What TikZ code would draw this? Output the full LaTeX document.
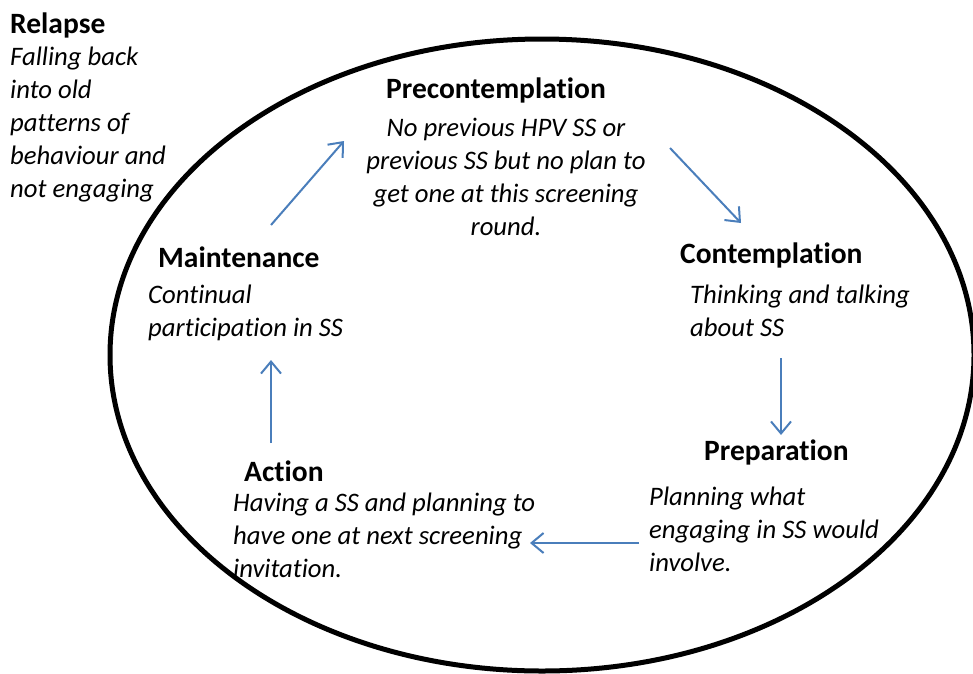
\documentclass[tikz,border=0pt]{standalone}
\usepackage{fontspec}
\setmainfont[Ligatures=NoCommon]{Carlito}
\usetikzlibrary{arrows.meta}
\definecolor{arrowblue}{HTML}{4A7EBB}
\begin{document}
\begin{tikzpicture}[x=1pt,y=-1pt,
  stage/.style={font=\fontsize{29.5}{33}\selectfont\bfseries, inner sep=0pt},
  note/.style={font=\fontsize{26.7}{33}\selectfont\itshape, inner sep=0pt},
  flow/.style={draw=arrowblue, line width=2pt,
    -{Straight Barb[length=12pt,width=20pt,line width=2pt]}}]
  \useasboundingbox (0,0) rectangle (973,673);

  % the cycle outline
  \draw[line width=5pt] (542,355) ellipse [x radius=432, y radius=316];

  % relapse, outside the cycle (multi-line notes are placed by their last baseline)
  \node[stage, anchor=base west] (relapse) at (10,33) {Relapse};
  \node[note, anchor=base west, align=left] (relapsetxt) at (10,197)
    {Falling back\\into old\\patterns of\\behaviour and\\not engaging};

  % stages inside the cycle
  \node[stage, anchor=base] (pre) at (496,98) {Precontemplation};
  \node[note, anchor=base, align=center] (pretxt) at (506,235)
    {No previous HPV SS or\\previous SS but no plan to\\get one at this screening\\round.};

  \node[stage, anchor=base west] (con) at (680,263) {Contemplation};
  \node[note, anchor=base west, align=left] (contxt) at (690,336)
    {Thinking and talking\\about SS};

  \node[stage, anchor=base west] (prep) at (704,460) {Preparation};
  \node[note, anchor=base west, align=left] (preptxt) at (649,571)
    {Planning what\\engaging in SS would\\involve.};

  \node[stage, anchor=base west] (act) at (244,481) {Action};
  \node[note, anchor=base west, align=left] (acttxt) at (233,577)
    {Having a SS and planning to\\have one at next screening\\invitation.};

  \node[stage, anchor=base west] (main) at (158,267) {Maintenance};
  \node[note, anchor=base west, align=left] (maintxt) at (148,336)
    {Continual\\participation in SS};

  % arrow ends
  \coordinate (a1) at (271,225); \coordinate (b1) at (344,141);
  \coordinate (a2) at (670,148); \coordinate (b2) at (741,223);
  \coordinate (a3) at (781,358); \coordinate (b3) at (781,435);
  \coordinate (a4) at (639,543); \coordinate (b4) at (530,543);
  \coordinate (a5) at (271,443); \coordinate (b5) at (271,360);

  \draw[flow] (a1) -- (b1);
  \draw[flow] (a2) -- (b2);
  \draw[flow] (a3) -- (b3);
  \draw[flow] (a4) -- (b4);
  \draw[flow] (a5) -- (b5);
\end{tikzpicture}
\end{document}
